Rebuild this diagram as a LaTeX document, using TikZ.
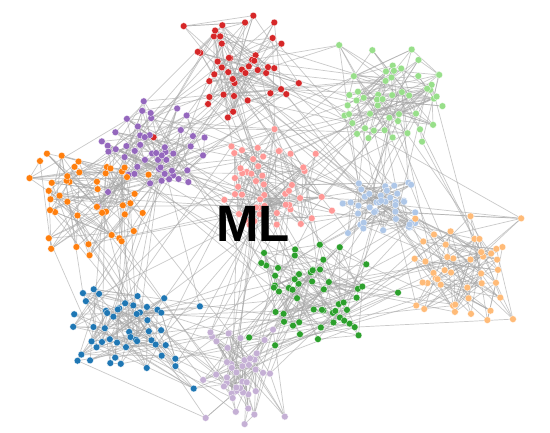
\documentclass[tikz,border=0pt]{standalone}
\usepackage{fontspec}
\setmainfont{Liberation Sans}
\definecolor{cRed}{HTML}{D62728}
\definecolor{cLGreen}{HTML}{98DF8A}
\definecolor{cPurple}{HTML}{9467BD}
\definecolor{cOrange}{HTML}{FF7F0E}
\definecolor{cPink}{HTML}{FF9896}
\definecolor{cLBlue}{HTML}{AEC7E8}
\definecolor{cPeach}{HTML}{FFBB78}
\definecolor{cGreen}{HTML}{2CA02C}
\definecolor{cBlue}{HTML}{1F77B4}
\definecolor{cLav}{HTML}{C5B0D5}
\tikzset{
  edge/.style={draw=black!35, line width=0.7pt, opacity=0.6},
  dotfill/.style={draw=white, line width=0.25pt}
}
\begin{document}
\begin{tikzpicture}[x=1pt,y=-1pt]
\useasboundingbox[fill=white] (0,0) rectangle (550,433);
\pgfmathsetseed{4711}
% node positions
\foreach \p/\cx/\cy/\hx/\hy/\n in {
  red/242/68/60/54/45,
  lg/388/95/58/52/50,
  pu/155/145/55/50/50,
  or/90/205/68/58/45,
  pk/272/185/52/60/50,
  lb/385/205/48/38/40,
  pe/460/272/60/55/45,
  gr/315/295/62/55/55,
  bl/125/332/62/45/50,
  la/242/372/48/55/45}{
  \foreach \i in {1,...,\n}{
    \pgfmathsetmacro{\f}{ifthenelse(\i>\n-3,1.6,1)}
    \pgfmathsetmacro{\x}{\cx+\f*\hx*(0.75*rand+0.25*rand)}
    \pgfmathsetmacro{\y}{\cy+\f*\hy*(0.75*rand+0.25*rand)}
    \coordinate (\p-\i) at (\x,\y);
  }
}
% intra-cluster edges
\foreach \p/\n in {red/45,lg/50,pu/50,or/45,pk/50,lb/40,pe/45,gr/55,bl/50,la/45}{
  \foreach \i in {1,...,\n}{
    \foreach \k in {1,2}{
      \pgfmathrandominteger{\j}{1}{\n}
      \draw[edge] (\p-\i) -- (\p-\j);
    }
  }
}
% inter-cluster edges
\foreach \a/\na/\b/\nb/\m in {
  red/45/pk/50/14, red/45/pu/50/14, red/45/lg/50/14, red/45/lb/40/8, red/45/or/45/6,
  lg/50/pk/50/12, lg/50/lb/40/14, lg/50/pe/45/9, lg/50/pu/50/5,
  pu/50/or/45/18, pu/50/pk/50/14, pu/50/bl/50/9, pu/50/gr/55/6,
  or/45/bl/50/12, or/45/pk/50/8, or/45/la/45/4,
  pk/50/lb/40/14, pk/50/gr/55/14, pk/50/la/45/9,
  lb/40/pe/45/14, lb/40/gr/55/12,
  pe/45/gr/55/14, pe/45/la/45/5,
  gr/55/la/45/14, gr/55/bl/50/12,
  bl/50/la/45/14, bl/50/pk/50/8}{
  \foreach \k in {1,...,\m}{
    \pgfmathrandominteger{\i}{1}{\na}
    \pgfmathrandominteger{\j}{1}{\nb}
    \draw[edge] (\a-\i) -- (\b-\j);
  }
}
% dots
\foreach \p/\n/\c in {red/45/cRed,lg/50/cLGreen,pu/50/cPurple,or/45/cOrange,pk/50/cPink,lb/40/cLBlue,pe/45/cPeach,gr/55/cGreen,bl/50/cBlue,la/45/cLav}{
  \foreach \i in {1,...,\n}{
    \filldraw[dotfill, fill=\c] (\p-\i) circle (3.4);
  }
}
\node[font=\bfseries\fontsize{51}{51}\selectfont, inner sep=0pt] (ml) at (253,224) {ML};
\end{tikzpicture}
\end{document}
